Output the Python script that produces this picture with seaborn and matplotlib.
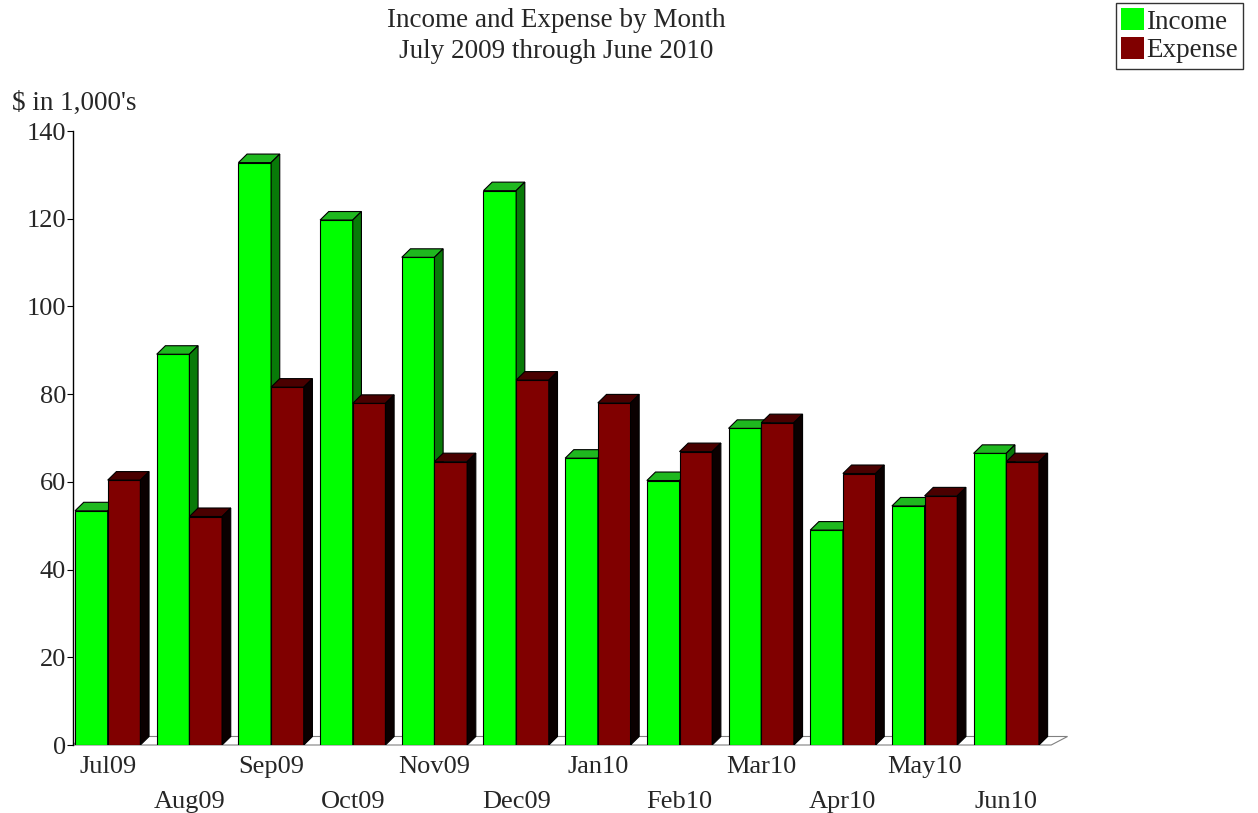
import matplotlib
matplotlib.use("Agg")
import matplotlib.pyplot as plt
from matplotlib.patches import Polygon, Patch
import seaborn as sns
import pandas as pd
import numpy as np

months = ["Jul09", "Aug09", "Sep09", "Oct09", "Nov09", "Dec09",
          "Jan10", "Feb10", "Mar10", "Apr10", "May10", "Jun10"]
income = [53.4, 89.1, 132.8, 119.7, 111.2, 126.4, 65.4, 60.3, 72.2, 49.0, 54.5, 66.5]
expense = [60.4, 52.1, 81.6, 77.9, 64.6, 83.2, 78.0, 66.9, 73.5, 61.9, 56.8, 64.6]
series = ["Income", "Expense"]

front = {"Income": "#00ff00", "Expense": "#800000"}
top = {"Income": "#1fb81f", "Expense": "#4a0000"}
side = {"Income": "#087a08", "Expense": "#0a0000"}

df = pd.DataFrame({
    "Month": months * 2,
    "Value": income + expense,
    "Series": ["Income"] * len(months) + ["Expense"] * len(months),
})

sns.set_style("white")
plt.rcParams["font.family"] = ["Liberation Serif", "DejaVu Serif"]

W, H = 1258, 813
fig = plt.figure(figsize=(W / 100, H / 100), dpi=100)
ax = fig.add_axes([73 / W, (H - 745) / H, (1070 - 73) / W, (745 - 131) / H])

sns.barplot(data=df, x="Month", y="Value", hue="Series", order=months,
            hue_order=series, palette=front, saturation=1, width=0.8, ax=ax,
            edgecolor="black", linewidth=0.8, legend=False, errorbar=None)

ax.set_ylim(0, 140)
ax.set_xlim(-0.425, 11.78)

# depth for the pseudo-3D look (in data units)
dx, dy = 0.106, 1.94

bars = ax.patches[:]

# floor
fx0, fx1 = -0.425, 11.55
floor = Polygon([(fx0, 0), (fx1, 0), (fx1 + 0.2, dy), (fx0 + dx, dy)],
                closed=True, facecolor="white", edgecolor="#808080",
                linewidth=0.8, zorder=0.5, clip_on=False)
ax.add_patch(floor)

n = len(months)
for k, s in enumerate(series):
    base_z = 2 + 2 * k
    for p in bars[k * n:(k + 1) * n]:
        x0 = p.get_x()
        w = p.get_width()
        h = p.get_height()
        p.set_zorder(base_z)
        topf = Polygon([(x0, h), (x0 + w, h), (x0 + w + dx, h + dy), (x0 + dx, h + dy)],
                       closed=True, facecolor=top[s], edgecolor="black",
                       linewidth=0.8, zorder=base_z + 0.5)
        sidef = Polygon([(x0 + w, 0), (x0 + w + dx, dy), (x0 + w + dx, h + dy), (x0 + w, h)],
                        closed=True, facecolor=side[s], edgecolor="black",
                        linewidth=0.8, zorder=base_z + 0.5)
        ax.add_patch(topf)
        ax.add_patch(sidef)

# axes styling
for sp in ["top", "right", "bottom"]:
    ax.spines[sp].set_visible(False)
ax.spines["left"].set_color("black")
ax.spines["left"].set_linewidth(1.0)
ax.set_yticks(np.arange(0, 141, 20))
ax.tick_params(axis="y", direction="out", length=4, width=0.8, color="black",
               labelsize=19, pad=1, left=True)

pos = np.arange(n)
ax.set_xticks(pos[::2])
ax.set_xticklabels(months[::2])
ax.set_xticks(pos[1::2], minor=True)
ax.set_xticklabels(months[1::2], minor=True)
ax.tick_params(axis="x", which="major", length=0, labelsize=19, pad=8)
ax.tick_params(axis="x", which="minor", length=0, labelsize=19, pad=33)
ax.set_xlabel("")
ax.set_ylabel("")

fig.text(12 / W, 1 - 103 / H, "$ in 1,000's", fontsize=19.5, ha="left", va="center")
fig.text(556 / W, 1 - 8 / H, "Income and Expense by Month\nJuly 2009 through June 2010",
         fontsize=19.5, ha="center", va="top", linespacing=1.3)

handles = [Patch(facecolor=front[s], edgecolor="none") for s in series]
leg = fig.legend(handles, series, loc="upper right", bbox_to_anchor=(1243 / W, 1 - 3 / H),
                 frameon=True, fancybox=False, edgecolor="black", fontsize=19.5,
                 handlelength=0.85, handleheight=0.85, handletextpad=0.05,
                 borderpad=0.2, labelspacing=0.1, borderaxespad=0)
leg.get_frame().set_linewidth(1.0)

fig.savefig("out.png", dpi=100, facecolor="white")
